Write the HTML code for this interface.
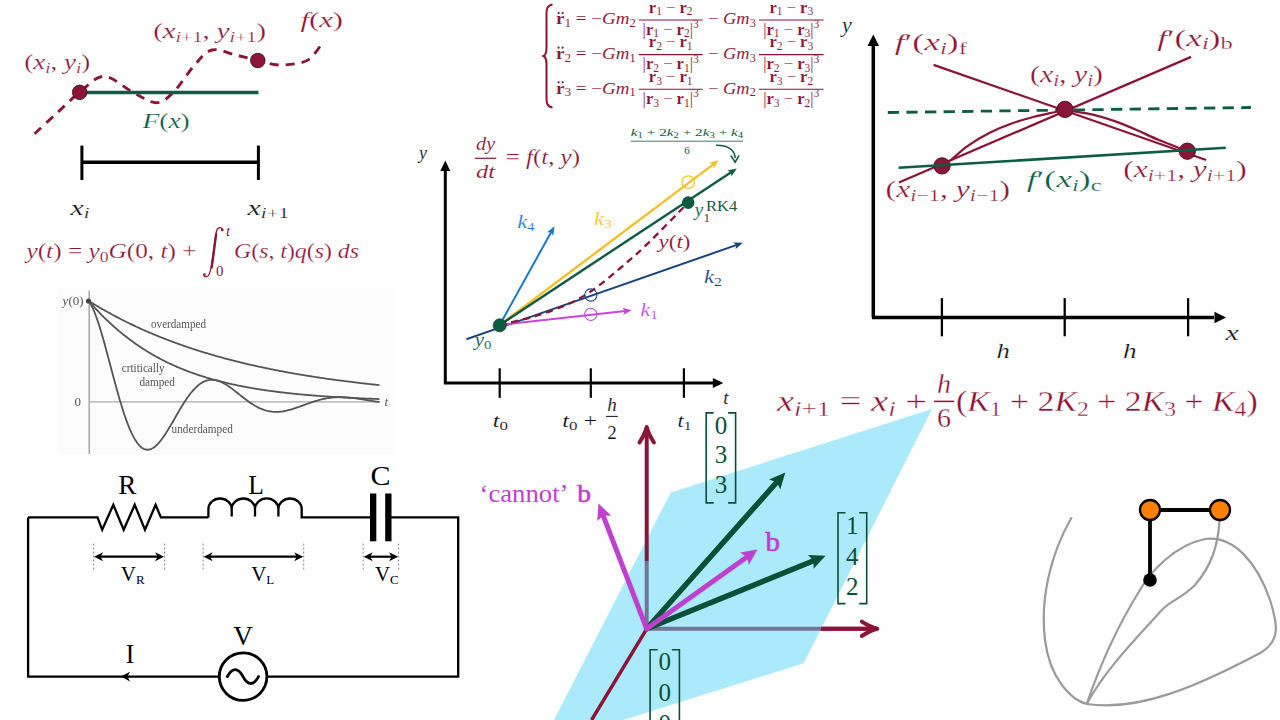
<!DOCTYPE html><html><head><meta charset="utf-8"><style>html,body{margin:0;padding:0;background:#fff;width:1280px;height:720px;overflow:hidden}svg{display:block}</style></head><body>
<svg width="1280" height="720" viewBox="0 0 1280 720">
<path d="M34.6,133.7 C38.3,130.2 49.5,119.9 57.0,113.0 C64.5,106.1 71.9,98.4 79.7,92.3 C87.5,86.2 94.9,76.4 103.8,76.4 C112.7,76.4 124.6,88.1 133.3,92.5 C142.1,96.9 149.6,102.7 156.3,102.7 C163.0,102.7 167.0,98.5 173.3,92.4 C179.6,86.3 187.5,73.0 193.9,65.9 C200.3,58.8 204.9,51.8 212.0,50.0 C219.1,48.2 228.7,53.5 236.4,55.2 C244.1,57.0 251.7,58.9 258.3,60.5 C264.9,62.1 270.1,64.2 276.2,64.8 C282.3,65.4 289.3,64.8 294.8,63.9 C300.3,63.0 305.0,62.4 309.4,59.2 C313.8,56.0 319.4,47.0 321.4,44.6" fill="none" stroke="#8a1538" stroke-width="2.9" stroke-dasharray="9 7"/>
<line x1="80" y1="92.5" x2="258.5" y2="92.5" stroke="#0d5c45" stroke-width="3.5" />
<circle cx="79.7" cy="92.3" r="7.3" fill="#8a1538" stroke="#3a0818" stroke-width="0.8"/>
<circle cx="257.8" cy="60.5" r="7.3" fill="#8a1538" stroke="#3a0818" stroke-width="0.8"/>
<text x="24.3" y="69" fill="#8a1538" font-family="Liberation Serif" font-size="22" text-anchor="start" textLength="66" lengthAdjust="spacingAndGlyphs" stroke="#fff" stroke-width="0.20" ><tspan dy="0.00" style="font-size:22.00px">(</tspan><tspan dy="0.00" style="font-style:italic;font-size:22.00px">x</tspan><tspan dy="3.74" style="font-style:italic;font-size:15.40px">i</tspan><tspan dy="-3.74" style="font-size:22.00px">, </tspan><tspan dy="0.00" style="font-style:italic;font-size:22.00px">y</tspan><tspan dy="3.74" style="font-style:italic;font-size:15.40px">i</tspan><tspan dy="-3.74" style="font-size:22.00px">)</tspan></text>
<text x="153.2" y="38" fill="#8a1538" font-family="Liberation Serif" font-size="22" text-anchor="start" textLength="113" lengthAdjust="spacingAndGlyphs" stroke="#fff" stroke-width="0.20" ><tspan dy="0.00" style="font-size:22.00px">(</tspan><tspan dy="0.00" style="font-style:italic;font-size:22.00px">x</tspan><tspan dy="3.74" style="font-style:italic;font-size:15.40px">i</tspan><tspan dy="0.00" style="font-size:15.40px">+1</tspan><tspan dy="-3.74" style="font-size:22.00px">, </tspan><tspan dy="0.00" style="font-style:italic;font-size:22.00px">y</tspan><tspan dy="3.74" style="font-style:italic;font-size:15.40px">i</tspan><tspan dy="0.00" style="font-size:15.40px">+1</tspan><tspan dy="-3.74" style="font-size:22.00px">)</tspan></text>
<text x="300.5" y="26.7" fill="#8a1538" font-family="Liberation Serif" font-size="22" text-anchor="start" textLength="42.6" lengthAdjust="spacingAndGlyphs" stroke="#fff" stroke-width="0.20" ><tspan dy="0.00" style="font-style:italic;font-size:22.00px">f</tspan><tspan dy="0.00" style="font-size:22.00px">(</tspan><tspan dy="0.00" style="font-style:italic;font-size:22.00px">x</tspan><tspan dy="0.00" style="font-size:22.00px">)</tspan></text>
<text x="142.4" y="128.2" fill="#0d5c45" font-family="Liberation Serif" font-size="22" text-anchor="start" textLength="47.4" lengthAdjust="spacingAndGlyphs" stroke="#fff" stroke-width="0.20" ><tspan dy="0.00" style="font-style:italic;font-size:22.00px">F</tspan><tspan dy="0.00" style="font-size:22.00px">(</tspan><tspan dy="0.00" style="font-style:italic;font-size:22.00px">x</tspan><tspan dy="0.00" style="font-size:22.00px">)</tspan></text>
<line x1="81.9" y1="162.2" x2="258.4" y2="162.2" stroke="#000" stroke-width="3.5" />
<line x1="81.9" y1="145.6" x2="81.9" y2="180" stroke="#000" stroke-width="3" />
<line x1="258.4" y1="145.6" x2="258.4" y2="180" stroke="#000" stroke-width="3" />
<text x="70.6" y="214.5" fill="#111" font-family="Liberation Serif" font-size="22" text-anchor="start" textLength="19" lengthAdjust="spacingAndGlyphs" stroke="#fff" stroke-width="0.20" ><tspan dy="0.00" style="font-style:italic;font-size:22.00px">x</tspan><tspan dy="3.74" style="font-style:italic;font-size:15.40px">i</tspan></text>
<text x="247.5" y="214.5" fill="#111" font-family="Liberation Serif" font-size="22" text-anchor="start" textLength="41.5" lengthAdjust="spacingAndGlyphs" stroke="#fff" stroke-width="0.20" ><tspan dy="0.00" style="font-style:italic;font-size:22.00px">x</tspan><tspan dy="3.74" style="font-style:italic;font-size:15.40px">i</tspan><tspan dy="0.00" style="font-size:15.40px">+1</tspan></text>
<text x="26.5" y="258" fill="#8a1538" font-family="Liberation Serif" font-size="22" text-anchor="start" textLength="170" lengthAdjust="spacingAndGlyphs" stroke="#fff" stroke-width="0.20" ><tspan dy="0.00" style="font-style:italic;font-size:22.00px">y</tspan><tspan dy="0.00" style="font-size:22.00px">(</tspan><tspan dy="0.00" style="font-style:italic;font-size:22.00px">t</tspan><tspan dy="0.00" style="font-size:22.00px">) = </tspan><tspan dy="0.00" style="font-style:italic;font-size:22.00px">y</tspan><tspan dy="3.74" style="font-size:15.40px">0</tspan><tspan dy="-3.74" style="font-style:italic;font-size:22.00px">G</tspan><tspan dy="0.00" style="font-size:22.00px">(0, </tspan><tspan dy="0.00" style="font-style:italic;font-size:22.00px">t</tspan><tspan dy="0.00" style="font-size:22.00px">) + </tspan></text>
<g transform="translate(3.5,1.5)"><path d="M219.5,228.5 C218.5,225.5 214.5,225 213,229.5 C211.5,236 209,258 207.5,266 C206.5,272.5 205,275.5 202.5,275.3 C201,275.2 200.3,274.3 200.2,273.5" fill="none" stroke="#8a1538" stroke-width="1.3" stroke-linecap="round"/>
<path d="M212.6,233 C211.6,240 209.5,258 208.2,266" fill="none" stroke="#8a1538" stroke-width="2.3" stroke-linecap="round"/>
<circle cx="218.6" cy="228.6" r="1.3" fill="#8a1538"/><circle cx="201" cy="273" r="1.3" fill="#8a1538"/></g>
<text x="226" y="236" fill="#8a1538" font-family="Liberation Serif" font-size="15" text-anchor="start" ><tspan dy="0.00" style="font-style:italic;font-size:15.00px">t</tspan></text>
<text x="216" y="276" fill="#8a1538" font-family="Liberation Serif" font-size="15" text-anchor="start" ><tspan dy="0.00" style="font-size:15.00px">0</tspan></text>
<text x="234" y="258" fill="#8a1538" font-family="Liberation Serif" font-size="22" text-anchor="start" textLength="125" lengthAdjust="spacingAndGlyphs" stroke="#fff" stroke-width="0.20" ><tspan dy="0.00" style="font-style:italic;font-size:22.00px">G</tspan><tspan dy="0.00" style="font-size:22.00px">(</tspan><tspan dy="0.00" style="font-style:italic;font-size:22.00px">s</tspan><tspan dy="0.00" style="font-size:22.00px">, </tspan><tspan dy="0.00" style="font-style:italic;font-size:22.00px">t</tspan><tspan dy="0.00" style="font-size:22.00px">)</tspan><tspan dy="0.00" style="font-style:italic;font-size:22.00px">q</tspan><tspan dy="0.00" style="font-size:22.00px">(</tspan><tspan dy="0.00" style="font-style:italic;font-size:22.00px">s</tspan><tspan dy="0.00" style="font-size:22.00px">) </tspan><tspan dy="0.00" style="font-style:italic;font-size:22.00px">ds</tspan></text>
<defs><filter id="bl" x="-5%" y="-5%" width="110%" height="110%"><feGaussianBlur stdDeviation="0.45"/></filter></defs>
<rect x="59" y="288" width="336" height="167" fill="#fcfcfc"/>
<g filter="url(#bl)">
<line x1="89.2" y1="290.5" x2="89.2" y2="454" stroke="#9a9a9a" stroke-width="1.3" />
<line x1="89.2" y1="401.8" x2="379.5" y2="401.8" stroke="#a8a8a8" stroke-width="1.3" />
<polyline points="88.5,300.80 89.5,301.42 90.5,302.04 91.5,302.66 92.5,303.27 93.5,303.88 94.5,304.48 95.5,305.08 96.5,305.68 97.5,306.27 98.5,306.86 99.5,307.45 100.5,308.03 101.5,308.61 102.5,309.19 103.5,309.76 104.5,310.33 105.5,310.89 106.5,311.45 107.5,312.01 108.5,312.56 109.5,313.12 110.5,313.66 111.5,314.21 112.5,314.75 113.5,315.28 114.5,315.82 115.5,316.35 116.5,316.88 117.5,317.40 118.5,317.92 119.5,318.44 120.5,318.95 121.5,319.47 122.5,319.97 123.5,320.48 124.5,320.98 125.5,321.48 126.5,321.98 127.5,322.47 128.5,322.96 129.5,323.44 130.5,323.93 131.5,324.41 132.5,324.89 133.5,325.36 134.5,325.83 135.5,326.30 136.5,326.77 137.5,327.23 138.5,327.69 139.5,328.15 140.5,328.60 141.5,329.06 142.5,329.50 143.5,329.95 144.5,330.39 145.5,330.84 146.5,331.27 147.5,331.71 148.5,332.14 149.5,332.57 150.5,333.00 151.5,333.42 152.5,333.85 153.5,334.27 154.5,334.68 155.5,335.10 156.5,335.51 157.5,335.92 158.5,336.32 159.5,336.73 160.5,337.13 161.5,337.53 162.5,337.93 163.5,338.32 164.5,338.71 165.5,339.10 166.5,339.49 167.5,339.87 168.5,340.26 169.5,340.64 170.5,341.01 171.5,341.39 172.5,341.76 173.5,342.13 174.5,342.50 175.5,342.87 176.5,343.23 177.5,343.59 178.5,343.95 179.5,344.31 180.5,344.66 181.5,345.02 182.5,345.37 183.5,345.71 184.5,346.06 185.5,346.40 186.5,346.75 187.5,347.09 188.5,347.42 189.5,347.76 190.5,348.09 191.5,348.42 192.5,348.75 193.5,349.08 194.5,349.41 195.5,349.73 196.5,350.05 197.5,350.37 198.5,350.69 199.5,351.00 200.5,351.32 201.5,351.63 202.5,351.94 203.5,352.25 204.5,352.55 205.5,352.86 206.5,353.16 207.5,353.46 208.5,353.76 209.5,354.05 210.5,354.35 211.5,354.64 212.5,354.93 213.5,355.22 214.5,355.51 215.5,355.80 216.5,356.08 217.5,356.36 218.5,356.64 219.5,356.92 220.5,357.20 221.5,357.47 222.5,357.75 223.5,358.02 224.5,358.29 225.5,358.56 226.5,358.82 227.5,359.09 228.5,359.35 229.5,359.62 230.5,359.88 231.5,360.13 232.5,360.39 233.5,360.65 234.5,360.90 235.5,361.15 236.5,361.40 237.5,361.65 238.5,361.90 239.5,362.15 240.5,362.39 241.5,362.64 242.5,362.88 243.5,363.12 244.5,363.36 245.5,363.59 246.5,363.83 247.5,364.06 248.5,364.30 249.5,364.53 250.5,364.76 251.5,364.99 252.5,365.21 253.5,365.44 254.5,365.67 255.5,365.89 256.5,366.11 257.5,366.33 258.5,366.55 259.5,366.77 260.5,366.98 261.5,367.20 262.5,367.41 263.5,367.62 264.5,367.83 265.5,368.04 266.5,368.25 267.5,368.46 268.5,368.67 269.5,368.87 270.5,369.07 271.5,369.28 272.5,369.48 273.5,369.68 274.5,369.87 275.5,370.07 276.5,370.27 277.5,370.46 278.5,370.66 279.5,370.85 280.5,371.04 281.5,371.23 282.5,371.42 283.5,371.60 284.5,371.79 285.5,371.98 286.5,372.16 287.5,372.34 288.5,372.53 289.5,372.71 290.5,372.89 291.5,373.06 292.5,373.24 293.5,373.42 294.5,373.59 295.5,373.77 296.5,373.94 297.5,374.11 298.5,374.28 299.5,374.45 300.5,374.62 301.5,374.79 302.5,374.96 303.5,375.12 304.5,375.29 305.5,375.45 306.5,375.61 307.5,375.77 308.5,375.93 309.5,376.09 310.5,376.25 311.5,376.41 312.5,376.57 313.5,376.72 314.5,376.88 315.5,377.03 316.5,377.19 317.5,377.34 318.5,377.49 319.5,377.64 320.5,377.79 321.5,377.94 322.5,378.08 323.5,378.23 324.5,378.37 325.5,378.52 326.5,378.66 327.5,378.81 328.5,378.95 329.5,379.09 330.5,379.23 331.5,379.37 332.5,379.51 333.5,379.64 334.5,379.78 335.5,379.92 336.5,380.05 337.5,380.19 338.5,380.32 339.5,380.45 340.5,380.58 341.5,380.72 342.5,380.85 343.5,380.97 344.5,381.10 345.5,381.23 346.5,381.36 347.5,381.48 348.5,381.61 349.5,381.73 350.5,381.86 351.5,381.98 352.5,382.10 353.5,382.22 354.5,382.35 355.5,382.47 356.5,382.59 357.5,382.70 358.5,382.82 359.5,382.94 360.5,383.06 361.5,383.17 362.5,383.29 363.5,383.40 364.5,383.51 365.5,383.63 366.5,383.74 367.5,383.85 368.5,383.96 369.5,384.07 370.5,384.18 371.5,384.29 372.5,384.40 373.5,384.51 374.5,384.61 375.5,384.72 376.5,384.82 377.5,384.93 378.5,385.03 379.5,385.14" fill="none" stroke="#555555" stroke-width="1.8" stroke-linejoin="round"/>
<polyline points="88.5,300.80 89.5,301.94 90.5,303.07 91.5,304.19 92.5,305.31 93.5,306.40 94.5,307.49 95.5,308.57 96.5,309.64 97.5,310.70 98.5,311.74 99.5,312.78 100.5,313.81 101.5,314.82 102.5,315.83 103.5,316.82 104.5,317.81 105.5,318.78 106.5,319.75 107.5,320.70 108.5,321.65 109.5,322.59 110.5,323.51 111.5,324.43 112.5,325.34 113.5,326.23 114.5,327.12 115.5,328.00 116.5,328.87 117.5,329.73 118.5,330.58 119.5,331.42 120.5,332.25 121.5,333.08 122.5,333.89 123.5,334.70 124.5,335.49 125.5,336.28 126.5,337.06 127.5,337.83 128.5,338.59 129.5,339.35 130.5,340.09 131.5,340.83 132.5,341.56 133.5,342.28 134.5,343.00 135.5,343.70 136.5,344.40 137.5,345.09 138.5,345.77 139.5,346.44 140.5,347.11 141.5,347.77 142.5,348.42 143.5,349.07 144.5,349.70 145.5,350.33 146.5,350.95 147.5,351.57 148.5,352.18 149.5,352.78 150.5,353.37 151.5,353.96 152.5,354.54 153.5,355.12 154.5,355.68 155.5,356.24 156.5,356.80 157.5,357.35 158.5,357.89 159.5,358.42 160.5,358.95 161.5,359.47 162.5,359.99 163.5,360.50 164.5,361.01 165.5,361.50 166.5,362.00 167.5,362.48 168.5,362.97 169.5,363.44 170.5,363.91 171.5,364.38 172.5,364.84 173.5,365.29 174.5,365.74 175.5,366.18 176.5,366.62 177.5,367.05 178.5,367.48 179.5,367.90 180.5,368.32 181.5,368.73 182.5,369.14 183.5,369.54 184.5,369.94 185.5,370.33 186.5,370.72 187.5,371.10 188.5,371.48 189.5,371.85 190.5,372.22 191.5,372.59 192.5,372.95 193.5,373.31 194.5,373.66 195.5,374.01 196.5,374.35 197.5,374.69 198.5,375.03 199.5,375.36 200.5,375.68 201.5,376.01 202.5,376.33 203.5,376.64 204.5,376.95 205.5,377.26 206.5,377.57 207.5,377.87 208.5,378.17 209.5,378.46 210.5,378.75 211.5,379.03 212.5,379.32 213.5,379.60 214.5,379.87 215.5,380.15 216.5,380.41 217.5,380.68 218.5,380.94 219.5,381.20 220.5,381.46 221.5,381.71 222.5,381.96 223.5,382.21 224.5,382.45 225.5,382.69 226.5,382.93 227.5,383.17 228.5,383.40 229.5,383.63 230.5,383.85 231.5,384.08 232.5,384.30 233.5,384.52 234.5,384.73 235.5,384.95 236.5,385.16 237.5,385.36 238.5,385.57 239.5,385.77 240.5,385.97 241.5,386.17 242.5,386.37 243.5,386.56 244.5,386.75 245.5,386.94 246.5,387.12 247.5,387.31 248.5,387.49 249.5,387.67 250.5,387.84 251.5,388.02 252.5,388.19 253.5,388.36 254.5,388.53 255.5,388.69 256.5,388.86 257.5,389.02 258.5,389.18 259.5,389.34 260.5,389.49 261.5,389.65 262.5,389.80 263.5,389.95 264.5,390.10 265.5,390.24 266.5,390.39 267.5,390.53 268.5,390.67 269.5,390.81 270.5,390.95 271.5,391.09 272.5,391.22 273.5,391.35 274.5,391.48 275.5,391.61 276.5,391.74 277.5,391.87 278.5,391.99 279.5,392.11 280.5,392.24 281.5,392.36 282.5,392.47 283.5,392.59 284.5,392.71 285.5,392.82 286.5,392.93 287.5,393.04 288.5,393.15 289.5,393.26 290.5,393.37 291.5,393.48 292.5,393.58 293.5,393.68 294.5,393.79 295.5,393.89 296.5,393.99 297.5,394.08 298.5,394.18 299.5,394.28 300.5,394.37 301.5,394.46 302.5,394.56 303.5,394.65 304.5,394.74 305.5,394.83 306.5,394.91 307.5,395.00 308.5,395.08 309.5,395.17 310.5,395.25 311.5,395.33 312.5,395.42 313.5,395.50 314.5,395.58 315.5,395.65 316.5,395.73 317.5,395.81 318.5,395.88 319.5,395.96 320.5,396.03 321.5,396.10 322.5,396.17 323.5,396.25 324.5,396.31 325.5,396.38 326.5,396.45 327.5,396.52 328.5,396.59 329.5,396.65 330.5,396.72 331.5,396.78 332.5,396.84 333.5,396.91 334.5,396.97 335.5,397.03 336.5,397.09 337.5,397.15 338.5,397.21 339.5,397.26 340.5,397.32 341.5,397.38 342.5,397.43 343.5,397.49 344.5,397.54 345.5,397.59 346.5,397.65 347.5,397.70 348.5,397.75 349.5,397.80 350.5,397.85 351.5,397.90 352.5,397.95 353.5,398.00 354.5,398.05 355.5,398.09 356.5,398.14 357.5,398.19 358.5,398.23 359.5,398.28 360.5,398.32 361.5,398.37 362.5,398.41 363.5,398.45 364.5,398.49 365.5,398.54 366.5,398.58 367.5,398.62 368.5,398.66 369.5,398.70 370.5,398.74 371.5,398.77 372.5,398.81 373.5,398.85 374.5,398.89 375.5,398.92 376.5,398.96 377.5,399.00 378.5,399.03 379.5,399.07" fill="none" stroke="#555555" stroke-width="1.8" stroke-linejoin="round"/>
<polyline points="88.5,300.80 89.5,302.20 90.5,303.82 91.5,305.65 92.5,307.68 93.5,309.89 94.5,312.27 95.5,314.83 96.5,317.54 97.5,320.40 98.5,323.39 99.5,326.51 100.5,329.74 101.5,333.08 102.5,336.50 103.5,340.01 104.5,343.59 105.5,347.23 106.5,350.92 107.5,354.65 108.5,358.40 109.5,362.18 110.5,365.96 111.5,369.75 112.5,373.52 113.5,377.27 114.5,381.00 115.5,384.69 116.5,388.33 117.5,391.92 118.5,395.44 119.5,398.90 120.5,402.29 121.5,405.59 122.5,408.80 123.5,411.92 124.5,414.94 125.5,417.85 126.5,420.65 127.5,423.34 128.5,425.91 129.5,428.36 130.5,430.68 131.5,432.88 132.5,434.94 133.5,436.87 134.5,438.67 135.5,440.34 136.5,441.86 137.5,443.25 138.5,444.50 139.5,445.62 140.5,446.60 141.5,447.44 142.5,448.15 143.5,448.73 144.5,449.17 145.5,449.49 146.5,449.68 147.5,449.74 148.5,449.68 149.5,449.51 150.5,449.21 151.5,448.81 152.5,448.30 153.5,447.69 154.5,446.97 155.5,446.16 156.5,445.25 157.5,444.26 158.5,443.19 159.5,442.04 160.5,440.82 161.5,439.52 162.5,438.17 163.5,436.75 164.5,435.28 165.5,433.77 166.5,432.21 167.5,430.61 168.5,428.97 169.5,427.31 170.5,425.63 171.5,423.92 172.5,422.20 173.5,420.47 174.5,418.74 175.5,417.00 176.5,415.27 177.5,413.54 178.5,411.83 179.5,410.13 180.5,408.45 181.5,406.80 182.5,405.17 183.5,403.58 184.5,402.02 185.5,400.49 186.5,399.00 187.5,397.56 188.5,396.16 189.5,394.81 190.5,393.51 191.5,392.26 192.5,391.07 193.5,389.93 194.5,388.85 195.5,387.82 196.5,386.86 197.5,385.96 198.5,385.11 199.5,384.33 200.5,383.61 201.5,382.96 202.5,382.37 203.5,381.84 204.5,381.37 205.5,380.96 206.5,380.62 207.5,380.34 208.5,380.12 209.5,379.96 210.5,379.85 211.5,379.81 212.5,379.82 213.5,379.89 214.5,380.00 215.5,380.17 216.5,380.40 217.5,380.66 218.5,380.98 219.5,381.34 220.5,381.74 221.5,382.19 222.5,382.67 223.5,383.19 224.5,383.74 225.5,384.32 226.5,384.94 227.5,385.58 228.5,386.24 229.5,386.93 230.5,387.64 231.5,388.37 232.5,389.12 233.5,389.88 234.5,390.65 235.5,391.43 236.5,392.22 237.5,393.01 238.5,393.80 239.5,394.60 240.5,395.40 241.5,396.19 242.5,396.98 243.5,397.76 244.5,398.53 245.5,399.29 246.5,400.04 247.5,400.78 248.5,401.50 249.5,402.20 250.5,402.89 251.5,403.56 252.5,404.21 253.5,404.83 254.5,405.43 255.5,406.01 256.5,406.57 257.5,407.10 258.5,407.60 259.5,408.08 260.5,408.53 261.5,408.95 262.5,409.35 263.5,409.71 264.5,410.05 265.5,410.36 266.5,410.64 267.5,410.89 268.5,411.11 269.5,411.31 270.5,411.47 271.5,411.61 272.5,411.72 273.5,411.80 274.5,411.86 275.5,411.89 276.5,411.89 277.5,411.86 278.5,411.82 279.5,411.75 280.5,411.65 281.5,411.53 282.5,411.40 283.5,411.24 284.5,411.06 285.5,410.86 286.5,410.64 287.5,410.41 288.5,410.16 289.5,409.90 290.5,409.62 291.5,409.33 292.5,409.02 293.5,408.71 294.5,408.39 295.5,408.06 296.5,407.72 297.5,407.37 298.5,407.02 299.5,406.66 300.5,406.30 301.5,405.94 302.5,405.57 303.5,405.21 304.5,404.84 305.5,404.48 306.5,404.12 307.5,403.76 308.5,403.40 309.5,403.05 310.5,402.70 311.5,402.36 312.5,402.03 313.5,401.71 314.5,401.39 315.5,401.08 316.5,400.78 317.5,400.49 318.5,400.21 319.5,399.94 320.5,399.68 321.5,399.44 322.5,399.20 323.5,398.98 324.5,398.77 325.5,398.57 326.5,398.39 327.5,398.22 328.5,398.06 329.5,397.91 330.5,397.78 331.5,397.66 332.5,397.55 333.5,397.46 334.5,397.38 335.5,397.32 336.5,397.26 337.5,397.22 338.5,397.19 339.5,397.18 340.5,397.17 341.5,397.18 342.5,397.20 343.5,397.23 344.5,397.27 345.5,397.32 346.5,397.38 347.5,397.45 348.5,397.53 349.5,397.62 350.5,397.71 351.5,397.82 352.5,397.93 353.5,398.05 354.5,398.18 355.5,398.31 356.5,398.45 357.5,398.59 358.5,398.74 359.5,398.89 360.5,399.04 361.5,399.20 362.5,399.36 363.5,399.52 364.5,399.69 365.5,399.85 366.5,400.02 367.5,400.19 368.5,400.36 369.5,400.52 370.5,400.69 371.5,400.86 372.5,401.02 373.5,401.18 374.5,401.34 375.5,401.50 376.5,401.65 377.5,401.80 378.5,401.95 379.5,402.09" fill="none" stroke="#555555" stroke-width="1.8" stroke-linejoin="round"/>
<circle cx="88.5" cy="301" r="2.6" fill="#444"/>
<g font-family="Liberation Serif" font-size="13" fill="#555">
<text x="151" y="328" textLength="55" lengthAdjust="spacingAndGlyphs">overdamped</text>
<text x="121.7" y="371.5" textLength="43" lengthAdjust="spacingAndGlyphs">crtitically</text>
<text x="139.4" y="385.5" textLength="35.6" lengthAdjust="spacingAndGlyphs">damped</text>
<text x="171.5" y="432.7" textLength="61.3" lengthAdjust="spacingAndGlyphs">underdamped</text>
<text x="74.5" y="405.7">0</text>
<text x="384.4" y="405.7" font-style="italic">t</text>
<text x="62.6" y="304.7" textLength="21" lengthAdjust="spacingAndGlyphs"><tspan font-style="italic">y</tspan>(0)</text>
</g>
</g>
<g fill="none" stroke="#000" stroke-width="2.3" stroke-linejoin="miter">
<path d="M28.1,517.4 L97.5,517.4 L102.2,529.8 L113.3,504.8 L123.7,529.8 L134.7,504.8 L145,529.8 L155.6,504.8 L160.9,517.4 L208.4,517.4"/>
<path d="M208.4,517.4 L208.4,509 A11.65,10.5 0 0 1 231.7,509 L231.7,516.5 L231.7,509 A11.65,10.5 0 0 1 255,509 L255,516.5 L255,509 A11.65,10.5 0 0 1 278.4,509 L278.4,516.5 L278.4,509 A11.65,10.5 0 0 1 301.7,509 L301.7,516.5 L301.7,517.4 L373,517.4"/>
<path d="M388.3,517.4 L458.2,517.4 L458.2,676.6 L268,676.6"/>
<path d="M218,676.6 L28.1,676.6 L28.1,517.4"/>
<circle cx="243.1" cy="676.6" r="23.8" stroke-width="2.8"/>
<path d="M226.7,677.7 C232,667 238,667 243,676.6 C248,686 254,686 259.1,675.5" stroke-width="2.8"/>
</g>
<rect x="370" y="493.5" width="6.3" height="47.8" fill="#000"/>
<rect x="385.2" y="493.5" width="6.3" height="47.8" fill="#000"/>
<path d="M121,676.6 L130,671.8 L127.5,676.6 L130,681.4 Z" fill="#000"/>
<g stroke="#888" stroke-width="1" stroke-dasharray="2 2">
<line x1="93.6" y1="543.6" x2="93.6" y2="570"/>
<line x1="164.6" y1="543.6" x2="164.6" y2="570"/>
<line x1="203.1" y1="543.6" x2="203.1" y2="570"/>
<line x1="303.7" y1="543.6" x2="303.7" y2="570"/>
<line x1="363.2" y1="543.6" x2="363.2" y2="570"/>
<line x1="398.6" y1="543.6" x2="398.6" y2="570"/>
</g>
<line x1="97.6" y1="556.7" x2="160.6" y2="556.7" stroke="#000" stroke-width="2.2" />
<path d="M94.1,556.7 L103.1,552.2 L100.6,556.7 L103.1,561.2 Z" fill="#000"/>
<path d="M164.1,556.7 L155.1,561.2 L157.6,556.7 L155.1,552.2 Z" fill="#000"/>
<line x1="207.1" y1="556.7" x2="299.7" y2="556.7" stroke="#000" stroke-width="2.2" />
<path d="M203.6,556.7 L212.6,552.2 L210.1,556.7 L212.6,561.2 Z" fill="#000"/>
<path d="M303.2,556.7 L294.2,561.2 L296.7,556.7 L294.2,552.2 Z" fill="#000"/>
<line x1="367.2" y1="556.7" x2="394.6" y2="556.7" stroke="#000" stroke-width="2.2" />
<path d="M363.7,556.7 L372.7,552.2 L370.2,556.7 L372.7,561.2 Z" fill="#000"/>
<path d="M398.1,556.7 L389.1,561.2 L391.6,556.7 L389.1,552.2 Z" fill="#000"/>
<g font-family="Liberation Serif" fill="#000">
<text x="118.3" y="493.6" font-size="28" textLength="18.1" lengthAdjust="spacingAndGlyphs">R</text>
<text x="248.2" y="493.6" font-size="28" textLength="15.6" lengthAdjust="spacingAndGlyphs">L</text>
<text x="370.4" y="485" font-size="28" textLength="20" lengthAdjust="spacingAndGlyphs">C</text>
<text x="233.3" y="645" font-size="28" textLength="19.7" lengthAdjust="spacingAndGlyphs">V</text>
<text x="125.7" y="662.8" font-size="28" textLength="8.5" lengthAdjust="spacingAndGlyphs">I</text>
<text x="120.8" y="581" font-size="21">V<tspan font-size="13" dy="3">R</tspan></text>
<text x="251.2" y="581" font-size="21">V<tspan font-size="13" dy="3">L</tspan></text>
<text x="374.9" y="581" font-size="21">V<tspan font-size="13" dy="3">C</tspan></text>
</g>
<path d="M552.5,4.4 C547,5.5 546.5,9 546.5,14 L546.5,48 C546.5,53 545.5,55 543.5,56 C545.5,57 546.5,59 546.5,64 L546.5,98 C546.5,103 547,106.5 552.5,107.6" fill="none" stroke="#8a1538" stroke-width="2"/>
<text x="556" y="24.4" fill="#8a1538" font-family="Liberation Serif" font-size="16.5" text-anchor="start" textLength="80" lengthAdjust="spacingAndGlyphs" stroke="#fff" stroke-width="0.06" ><tspan dy="0.00" style="font-weight:bold;font-size:16.50px">r</tspan><tspan dy="2.81" style="font-size:11.55px">1</tspan><tspan dy="-2.81" style="font-size:16.50px"> = −</tspan><tspan dy="0.00" style="font-style:italic;font-size:16.50px">G</tspan><tspan dy="0.00" style="font-style:italic;font-size:16.50px">m</tspan><tspan dy="2.81" style="font-size:11.55px">2</tspan></text>
<circle cx="558.6" cy="13.099999999999998" r="1.15" fill="#8a1538"/><circle cx="562.6" cy="13.099999999999998" r="1.15" fill="#8a1538"/>
<line x1="638.75" y1="20.0" x2="702.7" y2="20.0" stroke="#8a1538" stroke-width="1.1" />
<text x="670.7" y="12.5" fill="#8a1538" font-family="Liberation Serif" font-size="16.5" text-anchor="middle" stroke="#fff" stroke-width="0.06" ><tspan dy="0.00" style="font-weight:bold;font-size:16.50px">r</tspan><tspan dy="2.81" style="font-size:11.55px">1</tspan><tspan dy="-2.81" style="font-size:16.50px"> − </tspan><tspan dy="0.00" style="font-weight:bold;font-size:16.50px">r</tspan><tspan dy="2.81" style="font-size:11.55px">2</tspan></text>
<text x="670.7" y="34.5" fill="#8a1538" font-family="Liberation Serif" font-size="16.5" text-anchor="middle" stroke="#fff" stroke-width="0.06" ><tspan dy="0.00" style="font-size:16.50px">|</tspan><tspan dy="0.00" style="font-weight:bold;font-size:16.50px">r</tspan><tspan dy="2.81" style="font-size:11.55px">1</tspan><tspan dy="-2.81" style="font-size:16.50px"> − </tspan><tspan dy="0.00" style="font-weight:bold;font-size:16.50px">r</tspan><tspan dy="2.81" style="font-size:11.55px">2</tspan><tspan dy="-2.81" style="font-size:16.50px">|</tspan><tspan dy="-6.27" style="font-size:11.55px">3</tspan></text>
<text x="708" y="24.4" fill="#8a1538" font-family="Liberation Serif" font-size="16.5" text-anchor="start" textLength="48" lengthAdjust="spacingAndGlyphs" stroke="#fff" stroke-width="0.06" ><tspan dy="0.00" style="font-size:16.50px">− </tspan><tspan dy="0.00" style="font-style:italic;font-size:16.50px">G</tspan><tspan dy="0.00" style="font-style:italic;font-size:16.50px">m</tspan><tspan dy="2.81" style="font-size:11.55px">3</tspan></text>
<line x1="759" y1="20.0" x2="823.6" y2="20.0" stroke="#8a1538" stroke-width="1.1" />
<text x="791.3" y="12.5" fill="#8a1538" font-family="Liberation Serif" font-size="16.5" text-anchor="middle" stroke="#fff" stroke-width="0.06" ><tspan dy="0.00" style="font-weight:bold;font-size:16.50px">r</tspan><tspan dy="2.81" style="font-size:11.55px">1</tspan><tspan dy="-2.81" style="font-size:16.50px"> − </tspan><tspan dy="0.00" style="font-weight:bold;font-size:16.50px">r</tspan><tspan dy="2.81" style="font-size:11.55px">3</tspan></text>
<text x="791.3" y="34.5" fill="#8a1538" font-family="Liberation Serif" font-size="16.5" text-anchor="middle" stroke="#fff" stroke-width="0.06" ><tspan dy="0.00" style="font-size:16.50px">|</tspan><tspan dy="0.00" style="font-weight:bold;font-size:16.50px">r</tspan><tspan dy="2.81" style="font-size:11.55px">1</tspan><tspan dy="-2.81" style="font-size:16.50px"> − </tspan><tspan dy="0.00" style="font-weight:bold;font-size:16.50px">r</tspan><tspan dy="2.81" style="font-size:11.55px">3</tspan><tspan dy="-2.81" style="font-size:16.50px">|</tspan><tspan dy="-6.27" style="font-size:11.55px">3</tspan></text>
<text x="556" y="59" fill="#8a1538" font-family="Liberation Serif" font-size="16.5" text-anchor="start" textLength="80" lengthAdjust="spacingAndGlyphs" stroke="#fff" stroke-width="0.06" ><tspan dy="0.00" style="font-weight:bold;font-size:16.50px">r</tspan><tspan dy="2.81" style="font-size:11.55px">2</tspan><tspan dy="-2.81" style="font-size:16.50px"> = −</tspan><tspan dy="0.00" style="font-style:italic;font-size:16.50px">G</tspan><tspan dy="0.00" style="font-style:italic;font-size:16.50px">m</tspan><tspan dy="2.81" style="font-size:11.55px">1</tspan></text>
<circle cx="558.6" cy="47.7" r="1.15" fill="#8a1538"/><circle cx="562.6" cy="47.7" r="1.15" fill="#8a1538"/>
<line x1="638.75" y1="54.6" x2="702.7" y2="54.6" stroke="#8a1538" stroke-width="1.1" />
<text x="670.7" y="47.1" fill="#8a1538" font-family="Liberation Serif" font-size="16.5" text-anchor="middle" stroke="#fff" stroke-width="0.06" ><tspan dy="0.00" style="font-weight:bold;font-size:16.50px">r</tspan><tspan dy="2.81" style="font-size:11.55px">2</tspan><tspan dy="-2.81" style="font-size:16.50px"> − </tspan><tspan dy="0.00" style="font-weight:bold;font-size:16.50px">r</tspan><tspan dy="2.81" style="font-size:11.55px">1</tspan></text>
<text x="670.7" y="69.1" fill="#8a1538" font-family="Liberation Serif" font-size="16.5" text-anchor="middle" stroke="#fff" stroke-width="0.06" ><tspan dy="0.00" style="font-size:16.50px">|</tspan><tspan dy="0.00" style="font-weight:bold;font-size:16.50px">r</tspan><tspan dy="2.81" style="font-size:11.55px">2</tspan><tspan dy="-2.81" style="font-size:16.50px"> − </tspan><tspan dy="0.00" style="font-weight:bold;font-size:16.50px">r</tspan><tspan dy="2.81" style="font-size:11.55px">1</tspan><tspan dy="-2.81" style="font-size:16.50px">|</tspan><tspan dy="-6.27" style="font-size:11.55px">3</tspan></text>
<text x="708" y="59" fill="#8a1538" font-family="Liberation Serif" font-size="16.5" text-anchor="start" textLength="48" lengthAdjust="spacingAndGlyphs" stroke="#fff" stroke-width="0.06" ><tspan dy="0.00" style="font-size:16.50px">− </tspan><tspan dy="0.00" style="font-style:italic;font-size:16.50px">G</tspan><tspan dy="0.00" style="font-style:italic;font-size:16.50px">m</tspan><tspan dy="2.81" style="font-size:11.55px">3</tspan></text>
<line x1="759" y1="54.6" x2="823.6" y2="54.6" stroke="#8a1538" stroke-width="1.1" />
<text x="791.3" y="47.1" fill="#8a1538" font-family="Liberation Serif" font-size="16.5" text-anchor="middle" stroke="#fff" stroke-width="0.06" ><tspan dy="0.00" style="font-weight:bold;font-size:16.50px">r</tspan><tspan dy="2.81" style="font-size:11.55px">2</tspan><tspan dy="-2.81" style="font-size:16.50px"> − </tspan><tspan dy="0.00" style="font-weight:bold;font-size:16.50px">r</tspan><tspan dy="2.81" style="font-size:11.55px">3</tspan></text>
<text x="791.3" y="69.1" fill="#8a1538" font-family="Liberation Serif" font-size="16.5" text-anchor="middle" stroke="#fff" stroke-width="0.06" ><tspan dy="0.00" style="font-size:16.50px">|</tspan><tspan dy="0.00" style="font-weight:bold;font-size:16.50px">r</tspan><tspan dy="2.81" style="font-size:11.55px">2</tspan><tspan dy="-2.81" style="font-size:16.50px"> − </tspan><tspan dy="0.00" style="font-weight:bold;font-size:16.50px">r</tspan><tspan dy="2.81" style="font-size:11.55px">3</tspan><tspan dy="-2.81" style="font-size:16.50px">|</tspan><tspan dy="-6.27" style="font-size:11.55px">3</tspan></text>
<text x="556" y="93.6" fill="#8a1538" font-family="Liberation Serif" font-size="16.5" text-anchor="start" textLength="80" lengthAdjust="spacingAndGlyphs" stroke="#fff" stroke-width="0.06" ><tspan dy="0.00" style="font-weight:bold;font-size:16.50px">r</tspan><tspan dy="2.81" style="font-size:11.55px">3</tspan><tspan dy="-2.81" style="font-size:16.50px"> = −</tspan><tspan dy="0.00" style="font-style:italic;font-size:16.50px">G</tspan><tspan dy="0.00" style="font-style:italic;font-size:16.50px">m</tspan><tspan dy="2.81" style="font-size:11.55px">1</tspan></text>
<circle cx="558.6" cy="82.3" r="1.15" fill="#8a1538"/><circle cx="562.6" cy="82.3" r="1.15" fill="#8a1538"/>
<line x1="638.75" y1="89.19999999999999" x2="702.7" y2="89.19999999999999" stroke="#8a1538" stroke-width="1.1" />
<text x="670.7" y="81.69999999999999" fill="#8a1538" font-family="Liberation Serif" font-size="16.5" text-anchor="middle" stroke="#fff" stroke-width="0.06" ><tspan dy="0.00" style="font-weight:bold;font-size:16.50px">r</tspan><tspan dy="2.81" style="font-size:11.55px">3</tspan><tspan dy="-2.81" style="font-size:16.50px"> − </tspan><tspan dy="0.00" style="font-weight:bold;font-size:16.50px">r</tspan><tspan dy="2.81" style="font-size:11.55px">1</tspan></text>
<text x="670.7" y="103.69999999999999" fill="#8a1538" font-family="Liberation Serif" font-size="16.5" text-anchor="middle" stroke="#fff" stroke-width="0.06" ><tspan dy="0.00" style="font-size:16.50px">|</tspan><tspan dy="0.00" style="font-weight:bold;font-size:16.50px">r</tspan><tspan dy="2.81" style="font-size:11.55px">3</tspan><tspan dy="-2.81" style="font-size:16.50px"> − </tspan><tspan dy="0.00" style="font-weight:bold;font-size:16.50px">r</tspan><tspan dy="2.81" style="font-size:11.55px">1</tspan><tspan dy="-2.81" style="font-size:16.50px">|</tspan><tspan dy="-6.27" style="font-size:11.55px">3</tspan></text>
<text x="708" y="93.6" fill="#8a1538" font-family="Liberation Serif" font-size="16.5" text-anchor="start" textLength="48" lengthAdjust="spacingAndGlyphs" stroke="#fff" stroke-width="0.06" ><tspan dy="0.00" style="font-size:16.50px">− </tspan><tspan dy="0.00" style="font-style:italic;font-size:16.50px">G</tspan><tspan dy="0.00" style="font-style:italic;font-size:16.50px">m</tspan><tspan dy="2.81" style="font-size:11.55px">2</tspan></text>
<line x1="759" y1="89.19999999999999" x2="823.6" y2="89.19999999999999" stroke="#8a1538" stroke-width="1.1" />
<text x="791.3" y="81.69999999999999" fill="#8a1538" font-family="Liberation Serif" font-size="16.5" text-anchor="middle" stroke="#fff" stroke-width="0.06" ><tspan dy="0.00" style="font-weight:bold;font-size:16.50px">r</tspan><tspan dy="2.81" style="font-size:11.55px">3</tspan><tspan dy="-2.81" style="font-size:16.50px"> − </tspan><tspan dy="0.00" style="font-weight:bold;font-size:16.50px">r</tspan><tspan dy="2.81" style="font-size:11.55px">2</tspan></text>
<text x="791.3" y="103.69999999999999" fill="#8a1538" font-family="Liberation Serif" font-size="16.5" text-anchor="middle" stroke="#fff" stroke-width="0.06" ><tspan dy="0.00" style="font-size:16.50px">|</tspan><tspan dy="0.00" style="font-weight:bold;font-size:16.50px">r</tspan><tspan dy="2.81" style="font-size:11.55px">3</tspan><tspan dy="-2.81" style="font-size:16.50px"> − </tspan><tspan dy="0.00" style="font-weight:bold;font-size:16.50px">r</tspan><tspan dy="2.81" style="font-size:11.55px">2</tspan><tspan dy="-2.81" style="font-size:16.50px">|</tspan><tspan dy="-6.27" style="font-size:11.55px">3</tspan></text>
<line x1="445.3" y1="384" x2="445.3" y2="170" stroke="#000" stroke-width="3" />
<path d="M445.3,160.6 L450.3,171.1 L445.3,171.1 L440.3,171.1 Z" fill="#000"/>
<line x1="444" y1="383.1" x2="714" y2="383.1" stroke="#000" stroke-width="3" />
<path d="M723.3,383.1 L712.8,388.1 L712.8,383.1 L712.8,378.1 Z" fill="#000"/>
<line x1="499.7" y1="368.3" x2="499.7" y2="397.8" stroke="#000" stroke-width="2.2" />
<line x1="590.8" y1="368.3" x2="590.8" y2="397.8" stroke="#000" stroke-width="2.2" />
<line x1="683.9" y1="368.3" x2="683.9" y2="397.8" stroke="#000" stroke-width="2.2" />
<line x1="466.4" y1="339.2" x2="736.9" y2="244.9" stroke="#18447e" stroke-width="2" />
<path d="M742.8,242.8 L735.5,249.2 L736.2,245.1 L733.1,242.4 Z" fill="#18447e"/>
<line x1="499.7" y1="325" x2="551.4" y2="231.7" stroke="#1a78c8" stroke-width="2" />
<path d="M554.5,226.2 L553.3,235.8 L551.1,232.3 L547.0,232.3 Z" fill="#1a78c8"/>
<line x1="499.7" y1="325" x2="713.6" y2="164.1" stroke="#f7bf26" stroke-width="2.4" />
<path d="M718.6,160.3 L713.6,168.6 L713.0,164.5 L709.2,162.8 Z" fill="#f7bf26"/>
<line x1="499.7" y1="325" x2="731.5" y2="171.9" stroke="#0e5a42" stroke-width="2.4" />
<path d="M736.8,168.4 L731.3,176.4 L731.0,172.3 L727.3,170.4 Z" fill="#0e5a42"/>
<line x1="499.7" y1="325" x2="625.4" y2="311.0" stroke="#c548d8" stroke-width="2" />
<path d="M631.7,310.3 L623.2,314.9 L624.7,311.1 L622.4,307.7 Z" fill="#c548d8"/>
<path d="M499.7,325.0 C505.5,323.6 523.4,319.7 534.4,316.4 C545.4,313.1 556.7,309.1 566.0,305.0 C575.3,300.9 581.3,297.8 590.0,292.0 C598.7,286.2 608.7,277.7 618.0,270.0 C627.3,262.3 633.9,256.8 645.6,245.6 C657.3,234.4 681.1,209.8 688.2,202.6" fill="none" stroke="#8a1538" stroke-width="2.3" stroke-dasharray="7 5"/>
<circle cx="590.8" cy="295" r="6.1" fill="none" stroke="#18447e" stroke-width="1.1"/>
<circle cx="590.8" cy="314.4" r="6.1" fill="none" stroke="#c548d8" stroke-width="1.1"/>
<circle cx="688.2" cy="182.1" r="6.3" fill="none" stroke="#f7bf26" stroke-width="1.2"/>
<circle cx="499.7" cy="325.3" r="6.6" fill="#0e5a42" stroke="#333" stroke-width="0.6"/>
<circle cx="688.2" cy="202.6" r="6.3" fill="#0e5a42"/>
<path d="M716,145.2 C728,145 735,150 735.2,158" fill="none" stroke="#0e5a42" stroke-width="1.5"/>
<path d="M730.8,155.5 L735.2,162.2 L739,155.3" fill="none" stroke="#0e5a42" stroke-width="1.5"/>
<text x="419" y="158.5" fill="#111" font-family="Liberation Serif" font-size="18" text-anchor="start" stroke="#fff" stroke-width="0.10" ><tspan dy="0.00" style="font-style:italic;font-size:18.00px">y</tspan></text>
<text x="485.6" y="149.8" fill="#8a1538" font-family="Liberation Serif" font-size="19" text-anchor="middle" textLength="19" lengthAdjust="spacingAndGlyphs" stroke="#fff" stroke-width="0.12" ><tspan dy="0.00" style="font-style:italic;font-size:19.00px">dy</tspan></text>
<line x1="475" y1="158.3" x2="496.3" y2="158.3" stroke="#8a1538" stroke-width="1.2" />
<text x="485.6" y="177.8" fill="#8a1538" font-family="Liberation Serif" font-size="19" text-anchor="middle" textLength="19" lengthAdjust="spacingAndGlyphs" stroke="#fff" stroke-width="0.12" ><tspan dy="0.00" style="font-style:italic;font-size:19.00px">dt</tspan></text>
<text x="505.7" y="163.8" fill="#8a1538" font-family="Liberation Serif" font-size="20" text-anchor="start" textLength="74.3" lengthAdjust="spacingAndGlyphs" stroke="#fff" stroke-width="0.15" ><tspan dy="0.00" style="font-size:20.00px">= </tspan><tspan dy="0.00" style="font-style:italic;font-size:20.00px">f</tspan><tspan dy="0.00" style="font-size:20.00px">(</tspan><tspan dy="0.00" style="font-style:italic;font-size:20.00px">t</tspan><tspan dy="0.00" style="font-size:20.00px">, </tspan><tspan dy="0.00" style="font-style:italic;font-size:20.00px">y</tspan><tspan dy="0.00" style="font-size:20.00px">)</tspan></text>
<text x="517.5" y="227.5" fill="#1a78c8" font-family="Liberation Serif" font-size="19" text-anchor="start" textLength="17.1" lengthAdjust="spacingAndGlyphs" stroke="#fff" stroke-width="0.12" ><tspan dy="0.00" style="font-style:italic;font-size:19.00px">k</tspan><tspan dy="3.23" style="font-size:13.30px">4</tspan></text>
<text x="594.1" y="224.8" fill="#f7bf26" font-family="Liberation Serif" font-size="19" text-anchor="start" textLength="17.7" lengthAdjust="spacingAndGlyphs" stroke="#fff" stroke-width="0.12" ><tspan dy="0.00" style="font-style:italic;font-size:19.00px">k</tspan><tspan dy="3.23" style="font-size:13.30px">3</tspan></text>
<text x="703.9" y="283" fill="#18447e" font-family="Liberation Serif" font-size="19" text-anchor="start" textLength="18" lengthAdjust="spacingAndGlyphs" stroke="#fff" stroke-width="0.12" ><tspan dy="0.00" style="font-style:italic;font-size:19.00px">k</tspan><tspan dy="3.23" style="font-size:13.30px">2</tspan></text>
<text x="640.6" y="315.6" fill="#c548d8" font-family="Liberation Serif" font-size="19" text-anchor="start" textLength="17.4" lengthAdjust="spacingAndGlyphs" stroke="#fff" stroke-width="0.12" ><tspan dy="0.00" style="font-style:italic;font-size:19.00px">k</tspan><tspan dy="3.23" style="font-size:13.30px">1</tspan></text>
<text x="658.6" y="248" fill="#8a1538" font-family="Liberation Serif" font-size="19" text-anchor="start" textLength="31.8" lengthAdjust="spacingAndGlyphs" stroke="#fff" stroke-width="0.12" ><tspan dy="0.00" style="font-style:italic;font-size:19.00px">y</tspan><tspan dy="0.00" style="font-size:19.00px">(</tspan><tspan dy="0.00" style="font-style:italic;font-size:19.00px">t</tspan><tspan dy="0.00" style="font-size:19.00px">)</tspan></text>
<text x="474.7" y="345.6" fill="#0e5a42" font-family="Liberation Serif" font-size="19" text-anchor="start" textLength="16.7" lengthAdjust="spacingAndGlyphs" stroke="#fff" stroke-width="0.12" ><tspan dy="0.00" style="font-style:italic;font-size:19.00px">y</tspan><tspan dy="3.23" style="font-size:13.30px">0</tspan></text>
<text x="694.8" y="215.5" fill="#0e5a42" font-family="Liberation Serif" font-size="19" text-anchor="start" stroke="#fff" stroke-width="0.12" ><tspan dy="0.00" style="font-style:italic;font-size:19.00px">y</tspan></text>
<text x="705.9" y="210.7" fill="#0e5a42" font-family="Liberation Serif" font-size="15" text-anchor="start" textLength="31.3" lengthAdjust="spacingAndGlyphs" ><tspan dy="0.00" style="font-size:15.00px">RK4</tspan></text>
<text x="703.5" y="221.8" fill="#0e5a42" font-family="Liberation Serif" font-size="13" text-anchor="start" ><tspan dy="0.00" style="font-size:13.00px">1</tspan></text>
<text x="630.8" y="136.2" fill="#0e5a42" font-family="Liberation Serif" font-size="11" text-anchor="start" textLength="112.4" lengthAdjust="spacingAndGlyphs" ><tspan dy="0.00" style="font-style:italic;font-size:11.00px">k</tspan><tspan dy="1.87" style="font-size:7.70px">1</tspan><tspan dy="-1.87" style="font-size:11.00px"> + 2</tspan><tspan dy="0.00" style="font-style:italic;font-size:11.00px">k</tspan><tspan dy="1.87" style="font-size:7.70px">2</tspan><tspan dy="-1.87" style="font-size:11.00px"> + 2</tspan><tspan dy="0.00" style="font-style:italic;font-size:11.00px">k</tspan><tspan dy="1.87" style="font-size:7.70px">3</tspan><tspan dy="-1.87" style="font-size:11.00px"> + </tspan><tspan dy="0.00" style="font-style:italic;font-size:11.00px">k</tspan><tspan dy="1.87" style="font-size:7.70px">4</tspan></text>
<line x1="630.8" y1="141.2" x2="743.2" y2="141.2" stroke="#0e5a42" stroke-width="0.8" />
<text x="687" y="153.7" fill="#0e5a42" font-family="Liberation Serif" font-size="11" text-anchor="middle" ><tspan dy="0.00" style="font-size:11.00px">6</tspan></text>
<text x="723.3" y="403.9" fill="#111" font-family="Liberation Serif" font-size="19" text-anchor="start" stroke="#fff" stroke-width="0.12" ><tspan dy="0.00" style="font-style:italic;font-size:19.00px">t</tspan></text>
<text x="492.8" y="426.7" fill="#111" font-family="Liberation Serif" font-size="19" text-anchor="start" textLength="15.2" lengthAdjust="spacingAndGlyphs" stroke="#fff" stroke-width="0.12" ><tspan dy="0.00" style="font-style:italic;font-size:19.00px">t</tspan><tspan dy="3.23" style="font-size:13.30px">0</tspan></text>
<text x="562.2" y="426.7" fill="#111" font-family="Liberation Serif" font-size="19" text-anchor="start" textLength="35" lengthAdjust="spacingAndGlyphs" stroke="#fff" stroke-width="0.12" ><tspan dy="0.00" style="font-style:italic;font-size:19.00px">t</tspan><tspan dy="3.23" style="font-size:13.30px">0</tspan><tspan dy="-3.23" style="font-size:19.00px"> +</tspan></text>
<line x1="606" y1="416.4" x2="617.8" y2="416.4" stroke="#111" stroke-width="1" />
<text x="611.9" y="410.8" fill="#111" font-family="Liberation Serif" font-size="19" text-anchor="middle" stroke="#fff" stroke-width="0.12" ><tspan dy="0.00" style="font-style:italic;font-size:19.00px">h</tspan></text>
<text x="611.9" y="438.6" fill="#111" font-family="Liberation Serif" font-size="19" text-anchor="middle" stroke="#fff" stroke-width="0.12" ><tspan dy="0.00" style="font-size:19.00px">2</tspan></text>
<text x="677.5" y="426.7" fill="#111" font-family="Liberation Serif" font-size="19" text-anchor="start" textLength="13.9" lengthAdjust="spacingAndGlyphs" stroke="#fff" stroke-width="0.12" ><tspan dy="0.00" style="font-style:italic;font-size:19.00px">t</tspan><tspan dy="3.23" style="font-size:13.30px">1</tspan></text>
<line x1="873.3" y1="317.5" x2="873.3" y2="46" stroke="#000" stroke-width="3.5" />
<path d="M873.3,34.6 L879.1,46.1 L873.3,46.1 L867.5,46.1 Z" fill="#000"/>
<line x1="872" y1="317.5" x2="1214" y2="317.5" stroke="#000" stroke-width="3.5" />
<path d="M1226.0,317.5 L1214.5,323.3 L1214.5,317.5 L1214.5,311.7 Z" fill="#000"/>
<line x1="941.9" y1="298.1" x2="941.9" y2="336.3" stroke="#000" stroke-width="2.3" />
<line x1="1064.7" y1="298.1" x2="1064.7" y2="336.3" stroke="#000" stroke-width="2.3" />
<line x1="1188.1" y1="298.1" x2="1188.1" y2="336.3" stroke="#000" stroke-width="2.3" />
<line x1="898.9" y1="182.5" x2="1191.1" y2="56.9" stroke="#8a1538" stroke-width="2.3" />
<line x1="933.6" y1="64.9" x2="1206.1" y2="160" stroke="#8a1538" stroke-width="2.3" />
<line x1="887.8" y1="112.5" x2="1251" y2="107.5" stroke="#0d5c45" stroke-width="2.8" stroke-dasharray="11.3 7.3"/>
<circle cx="942" cy="165.9" r="8.2" fill="#8a1538" stroke="#3a0818" stroke-width="0.8"/>
<circle cx="1065" cy="109.4" r="8.2" fill="#8a1538" stroke="#3a0818" stroke-width="0.8"/>
<circle cx="1187.3" cy="151.2" r="8.2" fill="#8a1538" stroke="#3a0818" stroke-width="0.8"/>
<path d="M942.0,165.5 C943.6,164.5 947.1,162.9 951.4,159.6 C955.7,156.3 961.4,150.4 967.8,145.9 C974.2,141.4 982.4,136.5 989.7,132.8 C997.0,129.1 1004.3,126.1 1011.6,123.5 C1018.9,120.9 1026.1,118.9 1033.4,117.0 C1040.7,115.1 1050.0,113.2 1055.3,112.0 C1060.6,110.8 1061.8,109.7 1065.0,109.6 C1068.2,109.5 1069.6,110.6 1074.2,111.4 C1078.8,112.2 1086.0,113.1 1092.8,114.7 C1099.5,116.3 1107.4,118.7 1114.7,121.2 C1122.0,123.8 1129.3,126.9 1136.6,130.0 C1143.9,133.1 1150.0,136.3 1158.4,139.8 C1166.9,143.3 1182.5,149.3 1187.3,151.2" fill="none" stroke="#8a1538" stroke-width="2.3"/>
<line x1="898.6" y1="167.8" x2="1225.8" y2="147.8" stroke="#0d5c45" stroke-width="2.6" />
<text x="842" y="31.6" fill="#111" font-family="Liberation Serif" font-size="22" text-anchor="start" stroke="#fff" stroke-width="0.20" ><tspan dy="0.00" style="font-style:italic;font-size:22.00px">y</tspan></text>
<text x="894.7" y="49.8" fill="#8a1538" font-family="Liberation Serif" font-size="23" text-anchor="start" textLength="72.3" lengthAdjust="spacingAndGlyphs" stroke="#fff" stroke-width="0.23" ><tspan dy="0.00" style="font-style:italic;font-size:23.00px">f</tspan><tspan dy="0.00" style="font-size:23.00px">′</tspan><tspan dy="0.00" style="font-size:23.00px">(</tspan><tspan dy="0.00" style="font-style:italic;font-size:23.00px">x</tspan><tspan dy="3.91" style="font-style:italic;font-size:16.10px">i</tspan><tspan dy="-3.91" style="font-size:23.00px">)</tspan><tspan dy="3.91" style="font-size:16.10px">f</tspan></text>
<text x="1157.2" y="45.5" fill="#8a1538" font-family="Liberation Serif" font-size="23" text-anchor="start" textLength="75.6" lengthAdjust="spacingAndGlyphs" stroke="#fff" stroke-width="0.23" ><tspan dy="0.00" style="font-style:italic;font-size:23.00px">f</tspan><tspan dy="0.00" style="font-size:23.00px">′</tspan><tspan dy="0.00" style="font-size:23.00px">(</tspan><tspan dy="0.00" style="font-style:italic;font-size:23.00px">x</tspan><tspan dy="3.91" style="font-style:italic;font-size:16.10px">i</tspan><tspan dy="-3.91" style="font-size:23.00px">)</tspan><tspan dy="3.91" style="font-size:16.10px">b</tspan></text>
<text x="1030" y="81.7" fill="#8a1538" font-family="Liberation Serif" font-size="23" text-anchor="start" textLength="73" lengthAdjust="spacingAndGlyphs" stroke="#fff" stroke-width="0.23" ><tspan dy="0.00" style="font-size:23.00px">(</tspan><tspan dy="0.00" style="font-style:italic;font-size:23.00px">x</tspan><tspan dy="3.91" style="font-style:italic;font-size:16.10px">i</tspan><tspan dy="-3.91" style="font-size:23.00px">, </tspan><tspan dy="0.00" style="font-style:italic;font-size:23.00px">y</tspan><tspan dy="3.91" style="font-style:italic;font-size:16.10px">i</tspan><tspan dy="-3.91" style="font-size:23.00px">)</tspan></text>
<text x="885.6" y="197" fill="#8a1538" font-family="Liberation Serif" font-size="23" text-anchor="start" textLength="124.4" lengthAdjust="spacingAndGlyphs" stroke="#fff" stroke-width="0.23" ><tspan dy="0.00" style="font-size:23.00px">(</tspan><tspan dy="0.00" style="font-style:italic;font-size:23.00px">x</tspan><tspan dy="3.91" style="font-style:italic;font-size:16.10px">i</tspan><tspan dy="0.00" style="font-size:16.10px">−1</tspan><tspan dy="-3.91" style="font-size:23.00px">, </tspan><tspan dy="0.00" style="font-style:italic;font-size:23.00px">y</tspan><tspan dy="3.91" style="font-style:italic;font-size:16.10px">i</tspan><tspan dy="0.00" style="font-size:16.10px">−1</tspan><tspan dy="-3.91" style="font-size:23.00px">)</tspan></text>
<text x="1026.7" y="187" fill="#0d5c45" font-family="Liberation Serif" font-size="23" text-anchor="start" textLength="75" lengthAdjust="spacingAndGlyphs" stroke="#fff" stroke-width="0.23" ><tspan dy="0.00" style="font-style:italic;font-size:23.00px">f</tspan><tspan dy="0.00" style="font-size:23.00px">′</tspan><tspan dy="0.00" style="font-size:23.00px">(</tspan><tspan dy="0.00" style="font-style:italic;font-size:23.00px">x</tspan><tspan dy="3.91" style="font-style:italic;font-size:16.10px">i</tspan><tspan dy="-3.91" style="font-size:23.00px">)</tspan><tspan dy="3.91" style="font-size:16.10px">c</tspan></text>
<text x="1123.3" y="176.6" fill="#8a1538" font-family="Liberation Serif" font-size="23" text-anchor="start" textLength="123.4" lengthAdjust="spacingAndGlyphs" stroke="#fff" stroke-width="0.23" ><tspan dy="0.00" style="font-size:23.00px">(</tspan><tspan dy="0.00" style="font-style:italic;font-size:23.00px">x</tspan><tspan dy="3.91" style="font-style:italic;font-size:16.10px">i</tspan><tspan dy="0.00" style="font-size:16.10px">+1</tspan><tspan dy="-3.91" style="font-size:23.00px">, </tspan><tspan dy="0.00" style="font-style:italic;font-size:23.00px">y</tspan><tspan dy="3.91" style="font-style:italic;font-size:16.10px">i</tspan><tspan dy="0.00" style="font-size:16.10px">+1</tspan><tspan dy="-3.91" style="font-size:23.00px">)</tspan></text>
<text x="996.6" y="358.1" fill="#111" font-family="Liberation Serif" font-size="22" text-anchor="start" textLength="13.4" lengthAdjust="spacingAndGlyphs" stroke="#fff" stroke-width="0.20" ><tspan dy="0.00" style="font-style:italic;font-size:22.00px">h</tspan></text>
<text x="1123" y="358.1" fill="#111" font-family="Liberation Serif" font-size="22" text-anchor="start" textLength="13.6" lengthAdjust="spacingAndGlyphs" stroke="#fff" stroke-width="0.20" ><tspan dy="0.00" style="font-style:italic;font-size:22.00px">h</tspan></text>
<text x="1225.6" y="340.3" fill="#111" font-family="Liberation Serif" font-size="22" text-anchor="start" textLength="13.2" lengthAdjust="spacingAndGlyphs" stroke="#fff" stroke-width="0.20" ><tspan dy="0.00" style="font-style:italic;font-size:22.00px">x</tspan></text>
<text x="777" y="410.8" fill="#8a1538" font-family="Liberation Serif" font-size="29" text-anchor="start" textLength="150" lengthAdjust="spacingAndGlyphs" stroke="#fff" stroke-width="0.30" ><tspan dy="0.00" style="font-style:italic;font-size:29.00px">x</tspan><tspan dy="4.93" style="font-style:italic;font-size:20.30px">i</tspan><tspan dy="0.00" style="font-size:20.30px">+1</tspan><tspan dy="-4.93" style="font-size:29.00px"> = </tspan><tspan dy="0.00" style="font-style:italic;font-size:29.00px">x</tspan><tspan dy="4.93" style="font-style:italic;font-size:20.30px">i</tspan><tspan dy="-4.93" style="font-size:29.00px"> +</tspan></text>
<line x1="933.9" y1="401.4" x2="954.2" y2="401.4" stroke="#8a1538" stroke-width="1.5" />
<text x="944" y="392.5" fill="#8a1538" font-family="Liberation Serif" font-size="28" text-anchor="middle" stroke="#fff" stroke-width="0.30" ><tspan dy="0.00" style="font-style:italic;font-size:28.00px">h</tspan></text>
<text x="944" y="427" fill="#8a1538" font-family="Liberation Serif" font-size="28" text-anchor="middle" stroke="#fff" stroke-width="0.30" ><tspan dy="0.00" style="font-size:28.00px">6</tspan></text>
<text x="956" y="410.8" fill="#8a1538" font-family="Liberation Serif" font-size="29" text-anchor="start" textLength="301.7" lengthAdjust="spacingAndGlyphs" stroke="#fff" stroke-width="0.30" ><tspan dy="0.00" style="font-size:29.00px">(</tspan><tspan dy="0.00" style="font-style:italic;font-size:29.00px">K</tspan><tspan dy="4.93" style="font-size:20.30px">1</tspan><tspan dy="-4.93" style="font-size:29.00px"> + 2</tspan><tspan dy="0.00" style="font-style:italic;font-size:29.00px">K</tspan><tspan dy="4.93" style="font-size:20.30px">2</tspan><tspan dy="-4.93" style="font-size:29.00px"> + 2</tspan><tspan dy="0.00" style="font-style:italic;font-size:29.00px">K</tspan><tspan dy="4.93" style="font-size:20.30px">3</tspan><tspan dy="-4.93" style="font-size:29.00px"> + </tspan><tspan dy="0.00" style="font-style:italic;font-size:29.00px">K</tspan><tspan dy="4.93" style="font-size:20.30px">4</tspan><tspan dy="-4.93" style="font-size:29.00px">)</tspan></text>
<line x1="646.7" y1="628.8" x2="646.7" y2="561" stroke="#8a1538" stroke-width="4" />
<line x1="646.7" y1="628.8" x2="860" y2="628.8" stroke="#8a1538" stroke-width="4" />
<polygon points="670.8,492.4 932,409 803.7,663.3 623.2,720 554,720" fill="rgba(88,214,246,0.5)"/>
<line x1="646.7" y1="561" x2="646.7" y2="428.5" stroke="#8a1538" stroke-width="4"/>
<path d="M653.9,442.5 Q648.5,434.0 646.7,427.0 Q644.9,434.0 639.5,442.5" fill="none" stroke="#8a1538" stroke-width="4" stroke-linecap="round" stroke-linejoin="round"/>
<path d="M646.7,427.0 L649.9,435.0 L643.5,435.0 Z" fill="#8a1538"/>
<line x1="821.2" y1="628.8" x2="875" y2="628.8" stroke="#8a1538" stroke-width="4" />
<line x1="860" y1="628.8" x2="875.8" y2="628.8" stroke="#8a1538" stroke-width="4"/>
<path d="M861.8,636.0 Q870.3,630.6 877.3,628.8 Q870.3,627.0 861.8,621.6" fill="none" stroke="#8a1538" stroke-width="4" stroke-linecap="round" stroke-linejoin="round"/>
<path d="M877.3,628.8 L869.3,632.0 L869.3,625.6 Z" fill="#8a1538"/>
<line x1="646.7" y1="628.8" x2="591.6" y2="720" stroke="#8a1538" stroke-width="3.5" />
<line x1="646.7" y1="628.8" x2="776.7" y2="482.2" stroke="#0a5036" stroke-width="5.5" stroke-linecap="round"/>
<path d="M785.3,472.5 L780.3,489.4 L776.7,482.2 L769.1,479.5 Z" fill="#0a5036"/>
<line x1="646.7" y1="628.8" x2="813.6" y2="560.7" stroke="#0a5036" stroke-width="5.5" stroke-linecap="round"/>
<path d="M825.6,555.8 L813.6,568.8 L813.6,560.7 L808.0,554.9 Z" fill="#0a5036"/>
<line x1="646.7" y1="628.8" x2="746.9" y2="557.0" stroke="#bf3fd0" stroke-width="5" stroke-linecap="round"/>
<path d="M757.5,549.4 L748.9,564.8 L746.9,557.0 L740.1,552.6 Z" fill="#bf3fd0"/>
<line x1="646.7" y1="628.8" x2="603.2" y2="515.6" stroke="#bf3fd0" stroke-width="5" stroke-linecap="round"/>
<path d="M598.5,503.5 L611.2,515.7 L603.2,515.6 L597.2,521.1 Z" fill="#bf3fd0"/>
<path d="M713.7,412.9 L706.2,412.9 L706.2,502.9 L713.7,502.9" fill="none" stroke="#0a5036" stroke-width="1.6"/>
<path d="M728.1,412.9 L735.6,412.9 L735.6,502.9 L728.1,502.9" fill="none" stroke="#0a5036" stroke-width="1.6"/>
<text x="720.9000000000001" y="434.4" fill="#0a5036" font-family="Liberation Serif" font-size="25" text-anchor="middle">0</text>
<text x="720.9000000000001" y="463.3" fill="#0a5036" font-family="Liberation Serif" font-size="25" text-anchor="middle">3</text>
<text x="720.9000000000001" y="492.9" fill="#0a5036" font-family="Liberation Serif" font-size="25" text-anchor="middle">3</text>
<path d="M845.5,512.8 L838,512.8 L838,603.6 L845.5,603.6" fill="none" stroke="#0a5036" stroke-width="1.6"/>
<path d="M859.2,512.8 L866.7,512.8 L866.7,603.6 L859.2,603.6" fill="none" stroke="#0a5036" stroke-width="1.6"/>
<text x="852.35" y="534.4" fill="#0a5036" font-family="Liberation Serif" font-size="25" text-anchor="middle">1</text>
<text x="852.35" y="565" fill="#0a5036" font-family="Liberation Serif" font-size="25" text-anchor="middle">4</text>
<text x="852.35" y="594.7" fill="#0a5036" font-family="Liberation Serif" font-size="25" text-anchor="middle">2</text>
<path d="M657.6,649.7 L650.1,649.7 L650.1,760 L657.6,760" fill="none" stroke="#0a5036" stroke-width="1.6"/>
<path d="M671.9,649.7 L679.4,649.7 L679.4,760 L671.9,760" fill="none" stroke="#0a5036" stroke-width="1.6"/>
<text x="664.75" y="670.3" fill="#0a5036" font-family="Liberation Serif" font-size="25" text-anchor="middle">0</text>
<text x="664.75" y="701.2" fill="#0a5036" font-family="Liberation Serif" font-size="25" text-anchor="middle">0</text>
<text x="664.75" y="732" fill="#0a5036" font-family="Liberation Serif" font-size="25" text-anchor="middle">0</text>
<text x="479.5" y="501.8" fill="#bf3fd0" font-family="Liberation Serif" font-size="25" textLength="89" lengthAdjust="spacingAndGlyphs">‘cannot’</text>
<text x="577.2" y="501.8" fill="#bf3fd0" stroke="#bf3fd0" stroke-width="0.6" font-family="Liberation Serif" font-size="25" textLength="13.7" lengthAdjust="spacingAndGlyphs">b</text>
<text x="765.5" y="550.5" fill="#bf3fd0" stroke="#bf3fd0" stroke-width="0.7" font-family="Liberation Serif" font-size="26.5" textLength="14.5" lengthAdjust="spacingAndGlyphs">b</text>
<g fill="none" stroke="#9a9a9a" stroke-width="2.2">
<path d="M1071.7,517.3 C1050,555 1040,600 1045,640 C1050,680 1072,700 1086.7,704 C1140,712 1200,685 1262,652 C1280,640 1278,625 1270,600 C1258,565 1235,535 1205,539 C1175,545 1150,572 1140,590 C1115,630 1100,665 1086.7,704"/>
<path d="M1219.5,521 C1218,545 1212,565 1195,585 C1180,600 1170,600 1160,612 C1135,640 1105,670 1086.7,704"/>
</g>
<line x1="1150" y1="510" x2="1220" y2="510" stroke="#000" stroke-width="3.8" />
<line x1="1150" y1="510" x2="1150" y2="580" stroke="#000" stroke-width="3.8" />
<circle cx="1150" cy="580" r="6.8" fill="#000"/>
<circle cx="1150" cy="510" r="10" fill="#ff8000" stroke="#000" stroke-width="2.3"/>
<circle cx="1220" cy="510" r="10" fill="#ff8000" stroke="#000" stroke-width="2.3"/>
</svg></body></html>
